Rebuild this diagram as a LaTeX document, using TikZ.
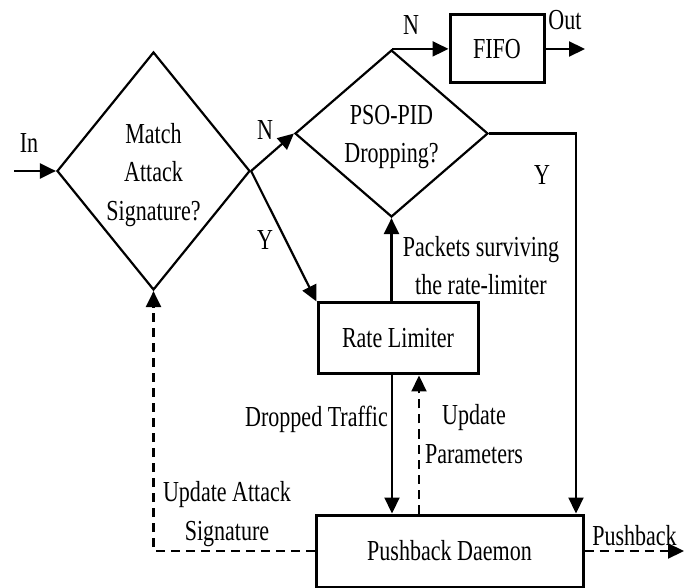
\documentclass[tikz,border=0pt]{standalone}
\usepackage{fontspec}
\setmainfont{Liberation Serif}[FakeStretch=0.76]
\usetikzlibrary{shapes.geometric,arrows.meta}
\begin{document}
\begin{tikzpicture}[x=1pt,y=-1pt,
  lbl/.style={font=\fontsize{29}{38.5}\selectfont,inner sep=0pt,align=center},
  dia/.style={draw,diamond,line width=2.2pt,inner sep=0pt},
  blk/.style={draw,rectangle,line width=3pt,inner sep=0pt,font=\fontsize{29}{38.5}\selectfont},
  flow/.style={line width=2.2pt,-{Triangle[length=16pt,width=15pt]}},
  dflow/.style={flow,dash pattern=on 9pt off 6pt}]
\useasboundingbox (0,0) rectangle (689,588);
% decision shapes
\node[dia,minimum width=193pt,minimum height=238pt] (d1) at (153.5,171) {};
\node[lbl] (d1t) at (153.5,175) {Match\\Attack\\Signature?};
\node[dia,minimum width=193pt,minimum height=167pt] (d2) at (391.5,133.5) {};
\node[lbl] (d2t) at (391.5,137) {PSO-PID\\Dropping?};
% boxes
\node[blk,minimum width=94pt,minimum height=68pt] (fifo) at (497,49) {FIFO};
\node[blk,minimum width=160pt,minimum height=71pt] (rl) at (398,338.5) {Rate Limiter};
\node[blk,minimum width=267pt,minimum height=72pt] (pd) at (449.5,551) {Pushback Daemon};
% free ends
\coordinate (inpt) at (14,171);
\coordinate (outpt) at (585,49);
\coordinate (pbpt) at (684,551);
\coordinate (ycorner) at (576,133.5);
% connectors
\draw[flow] (inpt) -- (d1.west);
\draw[flow] (d1.east) -- (d2.west);
\draw[flow] (d1.east) -- (rl.north west);
\draw[flow] (d2.north) -- (d2.north -| fifo.west);
\draw[flow] (fifo.east) -- (outpt);
\draw[flow] (d2.east) -- (ycorner) -- (ycorner |- pd.north);
\draw[flow] (rl.north -| d2.south) -- (d2.south);
\draw[flow] ([xshift=-6pt]rl.south) -- ([xshift=-6pt]rl.south |- pd.north);
\draw[dflow] ([xshift=21pt]rl.south |- pd.north) -- ([xshift=21pt]rl.south);
\draw[dflow] (pd.west) -- (pd.west -| d1.south) -- (d1.south);
\draw[dflow] (pd.east) -- (pbpt);
% labels
\node[lbl,anchor=base] (lin) at (29,153) {In};
\node[lbl,anchor=base] (ln1) at (265,140) {N};
\node[lbl,anchor=base] (ly1) at (265,250) {Y};
\node[lbl,anchor=base] (ln2) at (411,35) {N};
\node[lbl,anchor=base] (lout) at (565,30) {Out};
\node[lbl,anchor=base] (ly2) at (542,185) {Y};
\node[lbl,anchor=base] (lpk) at (481,295) {Packets surviving\\the rate-limiter};
\node[lbl,anchor=base east] (ldt) at (388,427) {Dropped Traffic};
\node[lbl,anchor=base] (lup) at (474,463) {Update\\Parameters};
\node[lbl,anchor=base] (lua) at (227,540) {Update Attack\\Signature};
\node[lbl,anchor=base] (lpb) at (634.5,545) {Pushback};
\end{tikzpicture}
\end{document}
